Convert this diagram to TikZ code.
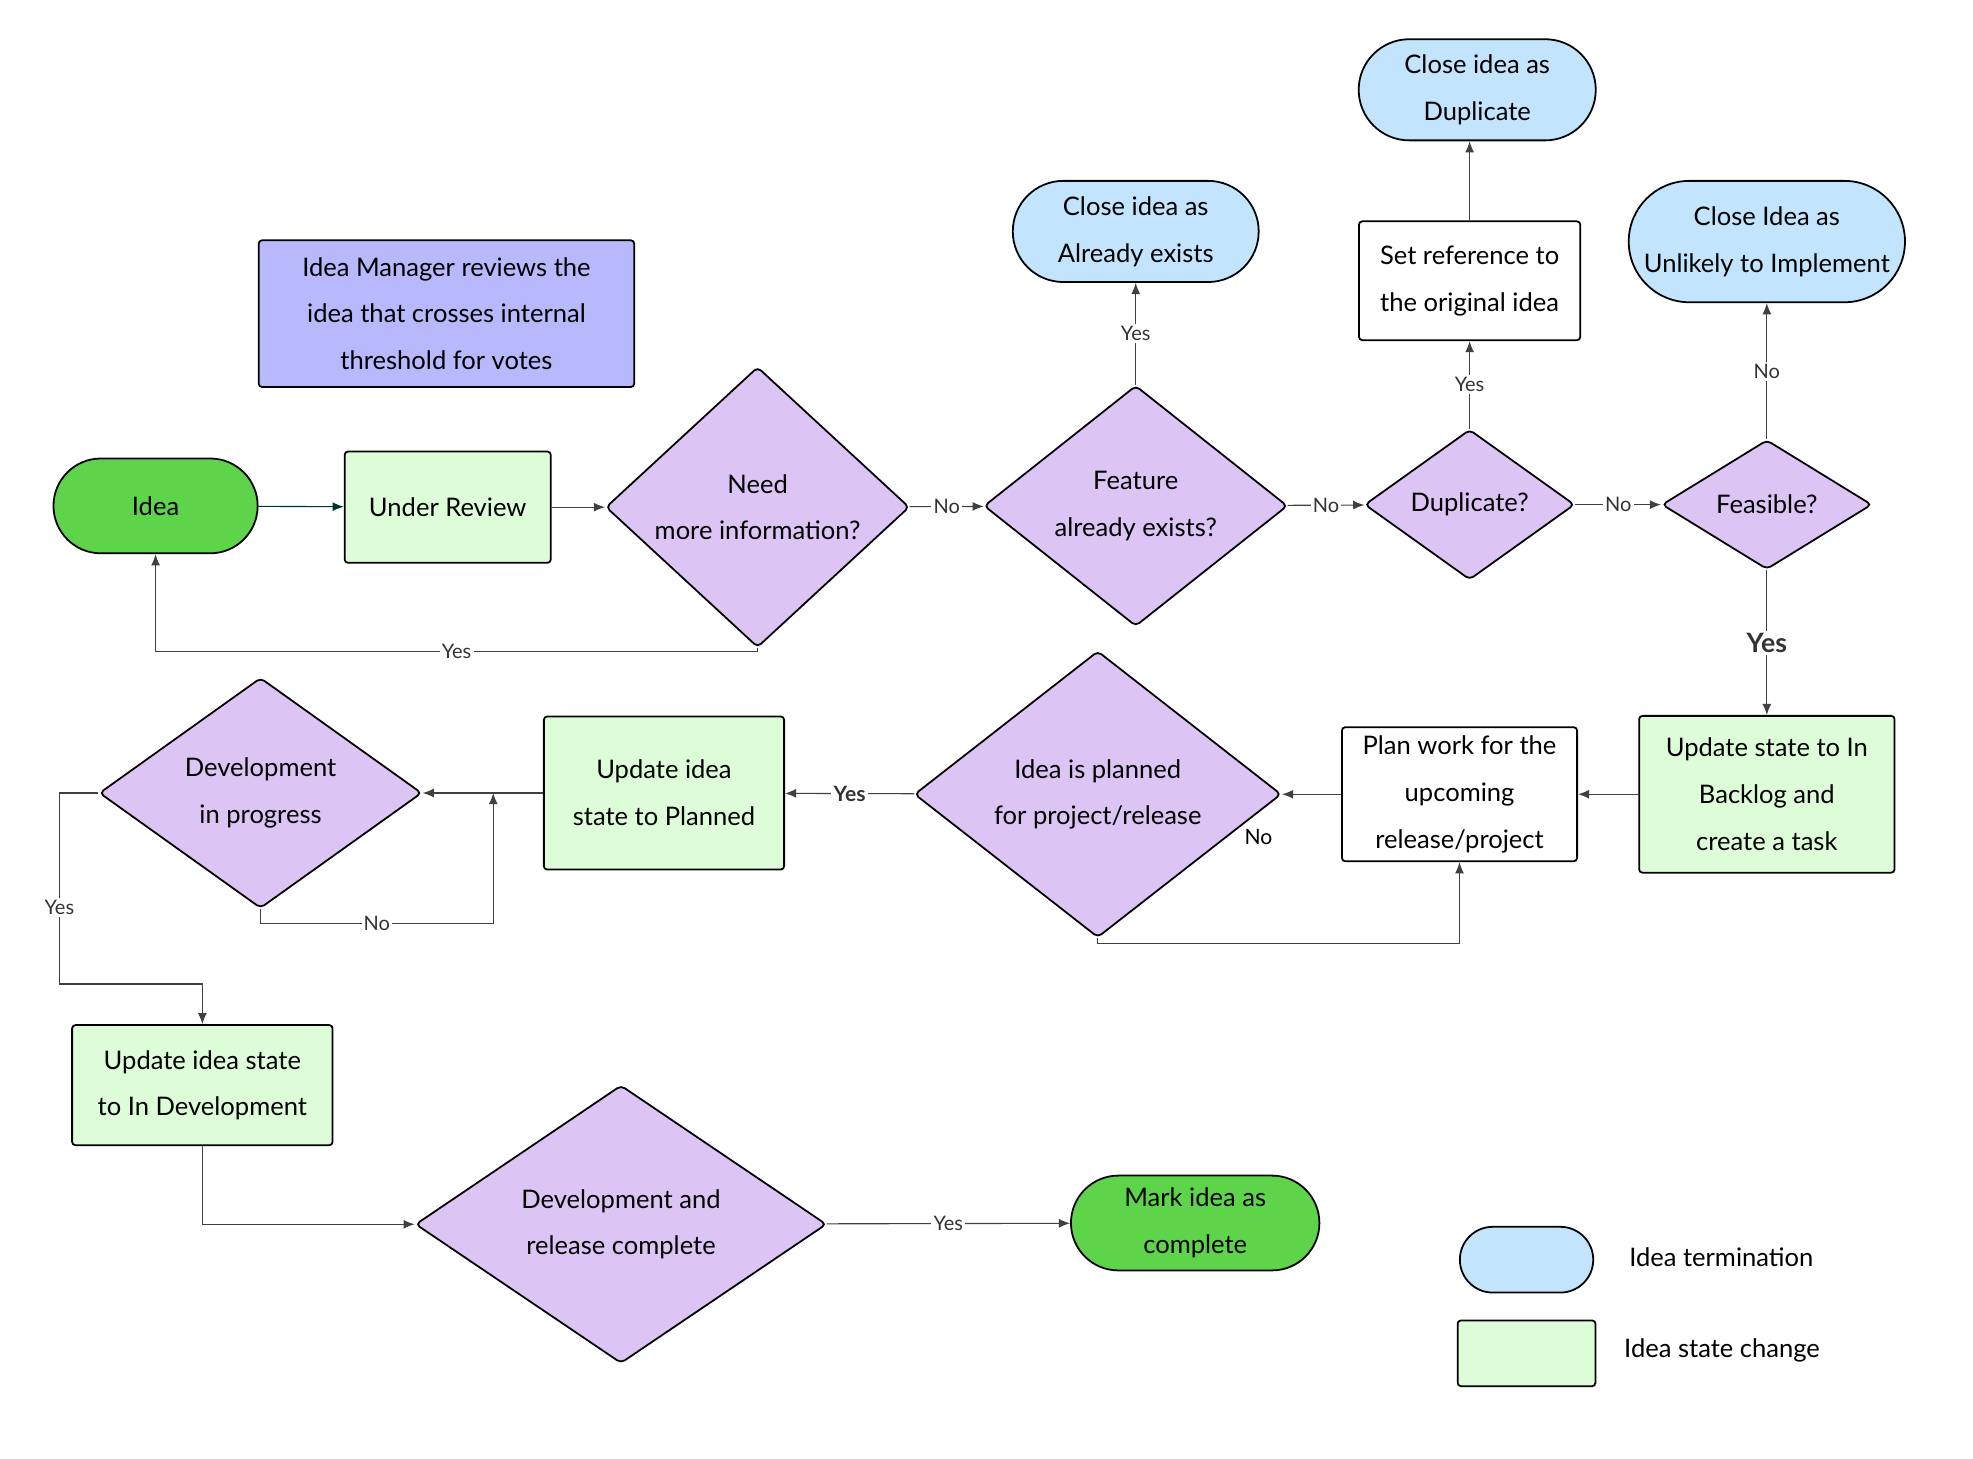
\documentclass[tikz,border=0pt]{standalone}
\usepackage{fontspec}
\setmainfont{Lato}
\usetikzlibrary{shapes.geometric,arrows.meta}
\definecolor{termblue}{HTML}{C2E4FD}
\definecolor{stategreen}{HTML}{DDFDD8}
\definecolor{startgreen}{HTML}{5ED44A}
\definecolor{decpurple}{HTML}{DCC4F4}
\definecolor{noteblue}{HTML}{B8B8FC}
\tikzset{
  base/.style={draw=black, line width=0.8pt, align=center, inner sep=1pt,
    font=\fontsize{11.5}{21}\selectfont},
  state/.style={base, rectangle, rounded corners=1.5pt, fill=stategreen},
  plain/.style={base, rectangle, rounded corners=1.5pt, fill=white},
  term/.style={base, rounded rectangle, fill=termblue},
  start/.style={base, rounded rectangle, fill=startgreen},
  decision/.style={base, diamond, rounded corners=2pt, fill=decpurple},
  flow/.style={draw=black!75, line width=0.5pt, -{Latex[length=5pt,width=4pt]}},
  lbl/.style={fill=white, inner sep=1pt, font=\fontsize{9}{10}\selectfont, text=black!80},
}
\usetikzlibrary{shapes.misc}
\begin{document}
\begin{tikzpicture}[x=0.02cm, y=-0.02cm]
\useasboundingbox (0,0) rectangle (1560,1153);
% note
\node[base, rectangle, rounded corners=1.5pt, fill=noteblue, minimum width=5.94cm, minimum height=2.32cm] (note) at (353,248)
  {Idea Manager reviews the\\idea that crosses internal\\threshold for votes};
% first row
\node[start, minimum width=3.3cm, minimum height=1.5cm] (idea) at (123,400) {Idea};
\node[state, minimum width=3.26cm, minimum height=1.76cm] (review) at (354,401) {Under Review};
\node[decision, minimum width=4.8cm, minimum height=3.24cm] (need) at (599,401) {Need\\more information?};
\node[decision, minimum width=4.8cm, minimum height=3.24cm] (feat) at (898,400) {Feature\\already exists?};
\node[decision, minimum width=3.32cm, minimum height=1.88cm] (dup) at (1162,399) {Duplicate?};
\node[decision, minimum width=3.32cm, minimum height=1.88cm] (feas) at (1397,399) {Feasible?};
% terminations
\node[term, minimum width=3.96cm, minimum height=1.6cm] (closeA) at (898,183) {Close idea as\\Already exists};
\node[plain, minimum width=3.5cm, minimum height=1.88cm] (setref) at (1162,222) {Set reference to\\the original idea};
\node[term, minimum width=3.82cm, minimum height=1.6cm] (closeD) at (1168,71) {Close idea as\\Duplicate};
\node[term, minimum width=4.44cm, minimum height=1.92cm] (closeU) at (1397,191) {Close Idea as\\Unlikely to Implement};
% second row
\node[state, minimum width=4.04cm, minimum height=2.48cm] (upd) at (1397,628) {Update state to In\\Backlog and\\create a task};
\node[plain, minimum width=3.72cm, minimum height=2.12cm] (plan) at (1154,628) {Plan work for the\\upcoming\\release/project};
\node[decision, minimum width=5.8cm, minimum height=3.44cm] (planned) at (868,628) {Idea is planned\\for project/release};
\node[state, minimum width=3.8cm, minimum height=2.42cm] (updP) at (525,627) {Update idea\\state to Planned};
\node[decision, minimum width=5.1cm, minimum height=2.88cm] (devp) at (206,627) {Development\\in progress};
% third row
\node[state, minimum width=4.12cm, minimum height=1.9cm] (updD) at (160,858) {Update idea state\\to In Development};
\node[decision, minimum width=6.5cm, minimum height=3.76cm] (devc) at (491,968) {Development and\\release complete};
\node[start, minimum width=4cm, minimum height=1.5cm] (mark) at (945,967) {Mark idea as\\complete};
% legend
\node[term, minimum width=2.18cm, minimum height=1.04cm] (legT) at (1207,996) {};
\node[state, minimum width=2.18cm, minimum height=1.04cm] (legS) at (1207,1070) {};
\node[font=\fontsize{11.5}{14}\selectfont, anchor=west] (legTt) at (1282,994) {Idea termination};
\node[font=\fontsize{11.5}{14}\selectfont, anchor=west] (legSt) at (1278,1068) {Idea state change};
% connectors
\coordinate (devpIn) at (390,627);
\draw[flow, draw=teal!40!black] (idea) -- (review);
\draw[flow] (review) -- (need);
\draw[flow] (need) -- node[lbl] {No} (feat);
\draw[flow] (feat) -- node[lbl] {No} (dup);
\draw[flow] (dup) -- node[lbl] {No} (feas);
\draw[flow] (need.south) |- node[lbl, pos=0.75] {Yes} (123,515) -- (idea.south);
\draw[flow] (feat.north) -- node[lbl] {Yes} (closeA.south);
\draw[flow] (dup.north) -- node[lbl] {Yes} (setref.south);
\draw[flow] (setref.north) -- (setref.north |- closeD.south);
\draw[flow] (feas.north) -- node[lbl] {No} (closeU.south);
\draw[flow] (feas.south) -- node[lbl, font=\bfseries\fontsize{12}{14}\selectfont] {Yes} (upd.north);
\draw[flow] (upd) -- (plan);
\draw[flow] (plan) -- (planned);
\draw[flow] (planned.south) -- (868,746) -| (plan.south);
\node[font=\fontsize{9.5}{10}\selectfont] (noLbl) at (995,662) {No};
\draw[flow] (planned) -- node[lbl, font=\bfseries\fontsize{9.5}{10}\selectfont] {Yes} (updP);
\draw[flow] (updP) -- (devp);
\draw[flow] (devp.south) |- node[lbl, pos=0.75] {No} (390,730) -- (devpIn);
\draw[flow] (devp.west) -- (47,627) |- node[lbl, pos=0.3] {Yes} (160,778) -- (updD.north);
\draw[flow] (updD.south) |- (devc.west);
\draw[flow] (devc) -- node[lbl] {Yes} (mark);
\end{tikzpicture}
\end{document}
